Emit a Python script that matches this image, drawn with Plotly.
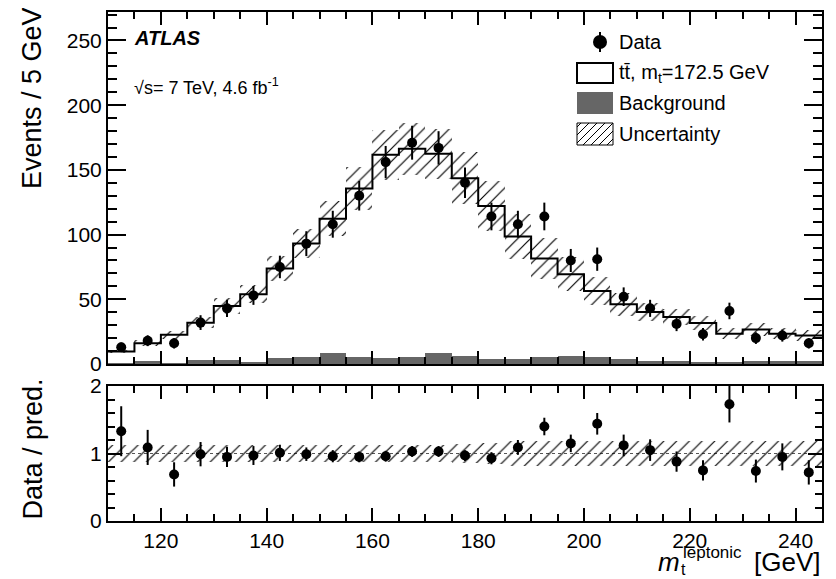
import numpy as np
import plotly.graph_objects as go

# ---------------- data ----------------
bin_edges = [110, 115, 120, 125, 130, 135, 140, 145, 150, 155, 160, 165, 170, 175,
             180, 185, 190, 195, 200, 205, 210, 215, 220, 225, 230, 235, 240, 245]
bin_centers = [112.5, 117.5, 122.5, 127.5, 132.5, 137.5, 142.5, 147.5, 152.5, 157.5,
               162.5, 167.5, 172.5, 177.5, 182.5, 187.5, 192.5, 197.5, 202.5, 207.5,
               212.5, 217.5, 222.5, 227.5, 232.5, 237.5, 242.5]
data_counts = [13, 18, 16, 32, 43, 53, 75, 93, 108, 130, 156, 171, 167, 140, 114, 108,
               114, 80, 81, 52, 43, 31, 23, 41, 20, 22, 16]
data_err = [3.6, 4.2, 4.0, 5.7, 6.6, 7.3, 8.7, 9.6, 10.4, 11.4, 12.5, 13.1, 12.9, 11.8,
            10.7, 10.4, 10.7, 8.9, 9.0, 7.2, 6.6, 5.6, 4.8, 6.4, 4.5, 4.7, 4.0]
pred_total = [9.7, 16.1, 22.6, 31.9, 44.8, 53.9, 73.8, 93.2, 112.3, 135.6, 161.6, 166.3,
              162.4, 143.6, 122.1, 98.5, 81.5, 69.4, 56.4, 46.1, 40.2, 36.3, 31.6, 23.4,
              26.7, 23.4, 22.1]
background = [0.3, 2.0, 0.3, 2.8, 2.8, 1.5, 4.6, 5.6, 8.2, 5.6, 4.6, 5.6, 8.2, 6.0, 3.9,
              3.9, 5.1, 6.4, 5.1, 3.9, 2.6, 2.0, 1.5, 1.2, 2.0, 2.0, 2.6]
unc_rel = [0.13, 0.13, 0.13, 0.13, 0.13, 0.13, 0.13, 0.12, 0.12, 0.12, 0.12, 0.12, 0.12,
           0.14, 0.16, 0.18, 0.19, 0.19, 0.19, 0.19, 0.18, 0.18, 0.18, 0.18, 0.18, 0.18, 0.18]
ratio_vals = [1.33, 1.09, 0.69, 0.99, 0.95, 0.97, 1.01, 0.99, 0.96, 0.95, 0.96, 1.03, 1.03,
              0.97, 0.93, 1.09, 1.40, 1.15, 1.44, 1.12, 1.05, 0.88, 0.75, 1.73, 0.74, 0.95, 0.72]
ratio_err = [0.37, 0.26, 0.18, 0.18, 0.15, 0.14, 0.12, 0.10, 0.09, 0.08, 0.08, 0.08, 0.08,
             0.08, 0.09, 0.11, 0.13, 0.13, 0.16, 0.16, 0.16, 0.15, 0.15, 0.27, 0.17, 0.20, 0.18]

upper_yticks = [0, 50, 100, 150, 200, 250]
lower_yticks = [0, 1, 2]
x_ticks = [120, 140, 160, 180, 200, 220, 240]

# ---------------- layout geometry (window pixels) ----------------
OFF = 8                       # default page body margin
W, H = 836 - OFF, 579 - OFF   # figure size so it ends at the window edge
L, R, T, B = 108, 822, 12, 521  # plot area in window pixels
UP_BOT, LO_TOP = 364, 386
FONT = "Liberation Sans, Arial, Helvetica, sans-serif"
GRAY = "#666666"


def px(x):
    return (x - L) / (R - L)


def py(y):
    return (B - y) / (B - T)


pred = np.array(pred_total)
rel = np.array(unc_rel)
band_lo = pred * (1 - rel)
band_h = 2 * rel * pred
step_y = list(pred_total) + [pred_total[-1]]

hatch = dict(shape="/", size=9, solidity=0.13, fgcolor="black",
             bgcolor="rgba(0,0,0,0)", fillmode="replace")

fig = go.Figure()

fig.add_trace(go.Bar(x=bin_centers, y=background, width=5, marker=dict(color=GRAY, line=dict(width=0)),
                     xaxis="x", yaxis="y", showlegend=False, hoverinfo="skip"))
fig.add_trace(go.Bar(x=bin_centers, y=band_h, base=band_lo, width=5,
                     marker=dict(color="rgba(0,0,0,0)", line=dict(width=0), pattern=hatch),
                     xaxis="x", yaxis="y", showlegend=False, hoverinfo="skip"))
fig.add_trace(go.Scatter(x=bin_edges, y=step_y, mode="lines", line=dict(color="black", width=2, shape="hv"),
                         xaxis="x", yaxis="y", showlegend=False, hoverinfo="skip"))
fig.add_trace(go.Scatter(x=bin_centers, y=data_counts, mode="markers",
                         marker=dict(color="black", size=10),
                         error_y=dict(type="data", array=data_err, width=0, thickness=2, color="black"),
                         xaxis="x", yaxis="y", showlegend=False))

ones = np.ones(len(unc_rel))
fig.add_trace(go.Bar(x=bin_centers, y=2 * rel, base=ones - rel, width=5,
                     marker=dict(color="rgba(0,0,0,0)", line=dict(width=0), pattern=hatch),
                     xaxis="x2", yaxis="y2", showlegend=False, hoverinfo="skip"))
fig.add_trace(go.Scatter(x=bin_centers, y=ratio_vals, mode="markers",
                         marker=dict(color="black", size=10),
                         error_y=dict(type="data", array=ratio_err, width=0, thickness=2, color="black"),
                         xaxis="x2", yaxis="y2", showlegend=False, cliponaxis=True))

tickfont = dict(family=FONT, size=21, color="black")
common_x = dict(range=[110, 245], tickvals=x_ticks, ticks="inside", ticklen=13, tickwidth=1.5,
                tickcolor="black", showline=True, linecolor="black", linewidth=2, mirror="allticks",
                showgrid=False, zeroline=False, automargin=False,
                minor=dict(dtick=5, tick0=110, ticks="inside", ticklen=7, tickwidth=1.5, tickcolor="black"))

fig.update_layout(
    width=W, height=H,
    margin=dict(l=L - OFF, r=836 - R, t=T - OFF, b=579 - B, pad=0, autoexpand=False),
    paper_bgcolor="white", plot_bgcolor="white",
    barmode="overlay", bargap=0,
    showlegend=False,
    font=dict(family=FONT, color="black"),
    xaxis=dict(anchor="y", domain=[0, 1], showticklabels=False, **common_x),
    xaxis2=dict(anchor="y2", domain=[0, 1], showticklabels=True, tickfont=tickfont, **common_x),
    yaxis=dict(anchor="x", domain=[py(UP_BOT), 1], range=[0, 272], tickvals=upper_yticks,
               ticks="inside", ticklen=18, tickwidth=1.5, tickcolor="black", tickfont=tickfont,
               showline=True, linecolor="black", linewidth=2, mirror="allticks",
               showgrid=False, zeroline=False, automargin=False,
               minor=dict(dtick=10, ticks="inside", ticklen=9, tickwidth=1.5, tickcolor="black")),
    yaxis2=dict(anchor="x2", domain=[0, py(LO_TOP)], range=[0, 2], tickvals=lower_yticks,
                ticks="inside", ticklen=14, tickwidth=1.5, tickcolor="black", tickfont=tickfont,
                showline=True, linecolor="black", linewidth=2, mirror="allticks",
                showgrid=False, zeroline=False, automargin=False,
                minor=dict(dtick=0.2, ticks="inside", ticklen=7, tickwidth=1.5, tickcolor="black")),
)

shapes = []
shapes.append(dict(type="line", xref="x2 domain", yref="y2", x0=0, x1=1, y0=1, y1=1,
                   line=dict(color="#555555", width=1, dash="dot"), layer="below"))

# ---------------- legend (drawn by hand, ROOT style) ----------------
LX0, LX1 = 577, 613
TX = 618
rows_y = [42, 73, 103, 134]
shapes.append(dict(type="line", xref="paper", yref="paper", x0=px(600), x1=px(600),
                   y0=py(rows_y[0] - 10), y1=py(rows_y[0] + 10), line=dict(color="black", width=2)))
shapes.append(dict(type="circle", xref="paper", yref="paper", x0=px(600 - 7), x1=px(600 + 7),
                   y0=py(rows_y[0] - 7), y1=py(rows_y[0] + 7), fillcolor="black", line=dict(width=0)))
shapes.append(dict(type="rect", xref="paper", yref="paper", x0=px(LX0), x1=px(LX1),
                   y0=py(rows_y[1] + 10), y1=py(rows_y[1] - 10), fillcolor="white",
                   line=dict(color="black", width=2)))
shapes.append(dict(type="rect", xref="paper", yref="paper", x0=px(LX0), x1=px(LX1),
                   y0=py(rows_y[2] + 11), y1=py(rows_y[2] - 11), fillcolor=GRAY, line=dict(width=0)))
ux0, ux1, uy0, uy1 = LX0, LX1, rows_y[3] - 11, rows_y[3] + 11
shapes.append(dict(type="rect", xref="paper", yref="paper", x0=px(ux0), x1=px(ux1),
                   y0=py(uy1), y1=py(uy0), fillcolor="rgba(0,0,0,0)", line=dict(color="black", width=1)))
for k in np.arange(ux0 + uy0 + 4, ux1 + uy1, 8):
    xa = max(ux0, k - uy1)
    xb = min(ux1, k - uy0)
    if xb - xa < 1:
        continue
    shapes.append(dict(type="line", xref="paper", yref="paper", x0=px(xa), y0=py(k - xa),
                       x1=px(xb), y1=py(k - xb), line=dict(color="black", width=1)))

fig.update_layout(shapes=shapes)

ann = []


def text(x, y, s, size, xanchor="left", yanchor="middle", angle=0, **kw):
    ann.append(dict(x=px(x), y=py(y), xref="paper", yref="paper", text=s, showarrow=False,
                    xanchor=xanchor, yanchor=yanchor, textangle=angle, borderpad=0,
                    font=dict(family=FONT, size=size, color="black"), **kw))


text(TX, rows_y[0], "Data", 20)
text(TX, rows_y[1], "tt\u0304, m<sub>t</sub>=172.5 GeV", 20)
text(TX, rows_y[2], "Background", 20)
text(TX, rows_y[3], "Uncertainty", 20)

text(133, 38, "<b><i>ATLAS</i></b>", 20)
text(133, 86, "\u221as= 7 TeV, 4.6 fb<sup>-1</sup>", 18)

text(32, 6, "Events / 5 GeV", 27, xanchor="center", yanchor="top", angle=-90)
text(32, 378, "Data / pred.", 27, xanchor="center", yanchor="top", angle=-90)

text(821, 562, "[GeV]", 26, xanchor="right")
text(681, 562, "<i>m</i>", 26, xanchor="right")
text(682, 552, "leptonic", 17)
text(680, 578.5, "t", 16, yanchor="bottom")

fig.update_layout(annotations=ann)

fig.write_html("out.html")
